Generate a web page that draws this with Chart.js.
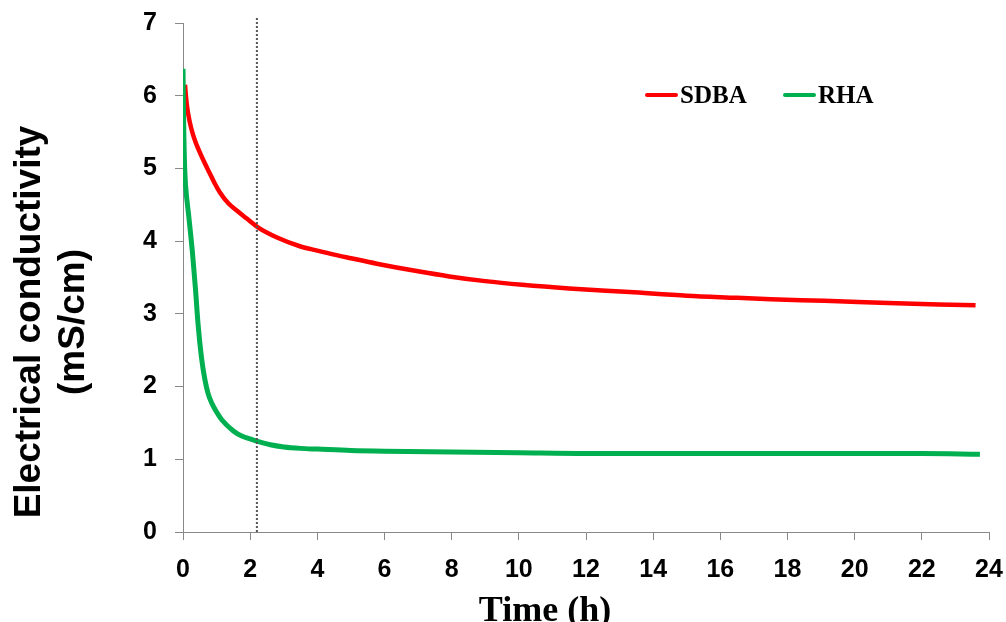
<!DOCTYPE html>
<html>
<head>
<meta charset="utf-8">
<script src="https://cdn.jsdelivr.net/npm/chart.js@4.4.1/dist/chart.umd.min.js"></script>
<style>
  body { margin: 0; background: #ffffff; }
  #wrap { width: 1006px; height: 622px; }
</style>
</head>
<body>
<div id="wrap"><canvas id="ec" width="1006" height="622"></canvas></div>
<script>
//time (h) and conductivity (mS/cm)
const sdbaTime = [0.06, 0.09, 0.13, 0.2, 0.3, 0.4, 0.5, 0.65, 0.8, 0.95, 1.1, 1.35, 1.6, 1.9, 2.23, 2.8, 3.48, 4.0, 4.5, 5.0, 5.77, 7.0, 7.93, 9.0, 10.1, 11.5, 13.3, 15.0, 16.5, 17.5, 19.1, 21.0, 22.5, 23.6];
const sdbaEC = [6.15, 5.98, 5.82, 5.64, 5.46, 5.33, 5.22, 5.07, 4.93, 4.79, 4.67, 4.52, 4.42, 4.31, 4.19, 4.05, 3.93, 3.87, 3.815, 3.765, 3.69, 3.585, 3.515, 3.45, 3.4, 3.35, 3.3, 3.25, 3.22, 3.2, 3.18, 3.15, 3.13, 3.12];
const rhaTime = [0, 0.02, 0.05, 0.08, 0.17, 0.28, 0.37, 0.45, 0.55, 0.65, 0.75, 0.87, 1.0, 1.16, 1.5, 1.75, 2.0, 2.2, 2.6, 3.0, 3.5, 4.0, 5.0, 6.0, 8.0, 10.0, 12.0, 14.0, 16.0, 18.0, 20.0, 22.0, 23.73];
const rhaEC = [6.37, 5.6, 5.0, 4.75, 4.35, 3.85, 3.35, 2.85, 2.4, 2.1, 1.9, 1.76, 1.65, 1.54, 1.39, 1.32, 1.28, 1.25, 1.2, 1.17, 1.15, 1.14, 1.12, 1.11, 1.1, 1.09, 1.08, 1.08, 1.08, 1.08, 1.08, 1.08, 1.07];
//dotted marker at ~2.2 h
const markerTime = [2.2, 2.2];
const markerEC = [0, 7.07];
const seriesNames = ["SDBA", "RHA"];
const seriesColors = ["#ff0000", "#00b050"];

const toPoints = (xs, ys) => xs.map((x, i) => ({ x: x, y: ys[i] }));

Chart.defaults.font.family = "'Liberation Sans', Arial, sans-serif";
Chart.defaults.font.weight = "bold";
Chart.defaults.color = "#000000";

//axis titles and legend drawn by hand so they sit where the original has them
const extraText = {
  id: "extraText",
  afterDraw(chart) {
    const ctx = chart.ctx;
    ctx.save();
    ctx.fillStyle = "#000000";
    //y title, two lines rotated
    ctx.translate(40, 322);
    ctx.rotate(-Math.PI / 2);
    ctx.textAlign = "center";
    ctx.textBaseline = "alphabetic";
    ctx.font = "bold 37px 'Liberation Sans', Arial, sans-serif";
    ctx.fillText("Electrical conductivity", 0, 0);
    ctx.fillText("(mS/cm)", 0, 44);
    ctx.restore();

    ctx.save();
    ctx.fillStyle = "#000000";
    ctx.textAlign = "center";
    ctx.textBaseline = "alphabetic";
    ctx.font = "bold 36px 'Liberation Serif', 'Times New Roman', serif";
    ctx.fillText("Time (h)", 545, 621);

    //legend
    const legendX = [647, 785];
    ctx.font = "bold 25px 'Liberation Serif', 'Times New Roman', serif";
    ctx.textAlign = "left";
    ctx.lineCap = "round";
    seriesNames.forEach((name, i) => {
      ctx.strokeStyle = seriesColors[i];
      ctx.lineWidth = 4;
      ctx.beginPath();
      ctx.moveTo(legendX[i], 95);
      ctx.lineTo(legendX[i] + 29, 95);
      ctx.stroke();
      ctx.fillText(name, legendX[i] + 33, 103);
    });
    ctx.restore();
  },
};

new Chart(document.getElementById("ec"), {
  type: "line",
  plugins: [extraText],
  data: {
    datasets: [
      {
        label: seriesNames[0],
        data: toPoints(sdbaTime, sdbaEC),
        borderColor: seriesColors[0],
        borderWidth: 4.5,
        pointRadius: 0,
        cubicInterpolationMode: "monotone",
        order: 2,
      },
      {
        label: seriesNames[1],
        data: toPoints(rhaTime, rhaEC),
        borderColor: seriesColors[1],
        borderWidth: 5,
        pointRadius: 0,
        cubicInterpolationMode: "monotone",
        order: 1,
      },
      {
        label: "marker",
        data: toPoints(markerTime, markerEC),
        borderColor: "#555555",
        borderWidth: 2,
        borderDash: [2, 2],
        pointRadius: 0,
        clip: false,
        order: 0,
      },
    ],
  },
  options: {
    responsive: false,
    animation: false,
    layout: { padding: { top: 23, right: 17, left: 0, bottom: 0 } },
    plugins: {
      legend: { display: false },
      tooltip: { enabled: false },
    },
    scales: {
      x: {
        type: "linear",
        min: 0,
        max: 24,
        afterFit: (s) => { s.height = 90; s.paddingLeft = 0; s.paddingRight = 0; },
        border: { display: true, color: "#888888", width: 1 },
        grid: { drawOnChartArea: false, drawTicks: true, tickLength: 8, color: "#888888" },
        ticks: { stepSize: 2, padding: 15, font: { size: 25, weight: "bold" }, color: "#000000" },
      },
      y: {
        min: 0,
        max: 7,
        afterFit: (s) => { s.width = 183; s.paddingTop = 0; s.paddingBottom = 0; },
        border: { display: true, color: "#888888", width: 1 },
        grid: { drawOnChartArea: false, drawTicks: true, tickLength: 8, color: "#888888" },
        ticks: { stepSize: 1, padding: 18, font: { size: 25, weight: "bold" }, color: "#000000" },
      },
    },
  },
});
</script>
</body>
</html>
